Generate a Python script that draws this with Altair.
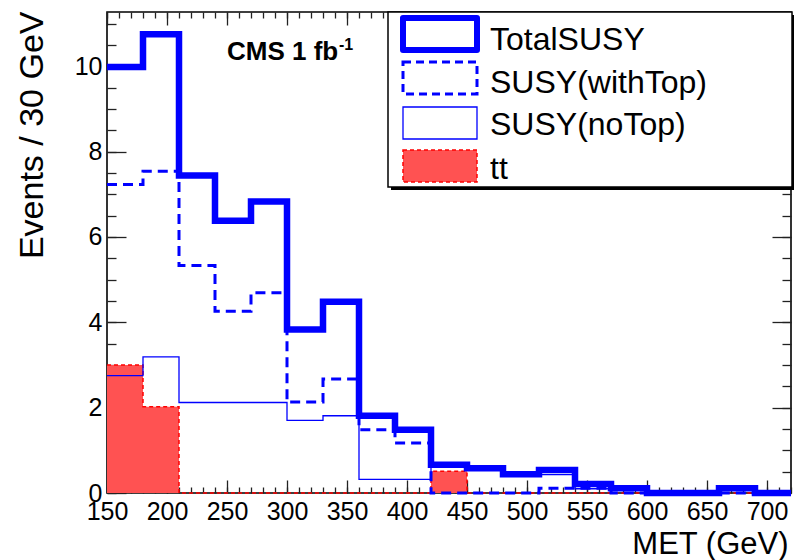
import altair as alt
import pandas as pd

FONT = "Liberation Sans"

# MET binning: 30 GeV bins from 150 to 720 GeV (lower edges)
bin_lo = [150, 180, 210, 240, 270, 300, 330, 360, 390, 420,
          450, 480, 510, 540, 570, 600, 630, 660, 690]
bin_width = 30

# Events / 30 GeV for each sample
total_susy = [9.98, 10.75, 7.44, 6.38, 6.83, 3.83, 4.48, 1.81, 1.48, 0.66,
              0.58, 0.44, 0.54, 0.21, 0.11, 0.0, 0.0, 0.11, 0.0]
susy_with_top = [7.23, 7.54, 5.33, 4.26, 4.69, 2.13, 2.67, 1.48, 1.17, 0.0,
                 0.0, 0.0, 0.11, 0.11, 0.0, 0.0, 0.0, 0.0, 0.0]
susy_no_top = [2.75, 3.19, 2.12, 2.12, 2.12, 1.70, 1.81, 0.32, 0.32, 0.66,
               0.58, 0.44, 0.43, 0.10, 0.11, 0.0, 0.0, 0.11, 0.0]
ttbar = [3.00, 2.02, 0.0, 0.0, 0.0, 0.0, 0.0, 0.0, 0.0, 0.51,
         0.0, 0.0, 0.0, 0.0, 0.0, 0.0, 0.0, 0.0, 0.0]

series_names = ["TotalSUSY", "SUSY(withTop)", "SUSY(noTop)", "tt"]

# axis decorations
x_major = [150, 200, 250, 300, 350, 400, 450, 500, 550, 600, 650, 700]
x_minor = list(range(150, 721, 10))
y_major = [0, 2, 4, 6, 8, 10]
y_minor = [v / 2 for v in range(0, 23)]

W, H = 684, 481
x_scale = alt.Scale(domain=[150, 720], nice=False, zero=False)
y_scale = alt.Scale(domain=[0, 11.27], nice=False, zero=True)

BLUE = "#0000ff"
RED = "#ff0000"
TT_FILL = "#ff5252"


def step_frame(values):
    edges = bin_lo + [bin_lo[-1] + bin_width]
    return pd.DataFrame({"met": edges, "events": values + [values[-1]]})


def tick_axis(orient, values, size):
    # inward-pointing ticks hugging the frame
    return alt.Axis(orient=orient, values=values, tickSize=size, offset=-size,
                    labels=False, domain=False, grid=False, title=None,
                    tickColor="#222222", tickWidth=1.3)


x_label_axis = alt.Axis(
    orient="bottom", values=x_major, ticks=False, tickSize=0, domain=False,
    grid=False, labelFont=FONT, labelFontSize=25, labelColor="black",
    labelPadding=6, labelOverlap=False, labelFlush=False,
    title="MET (GeV)", titleFont=FONT, titleFontSize=31,
    titleFontWeight="normal", titleColor="black", titleAnchor="end",
    titleAlign="right", titleBaseline="alphabetic", titleX=681, titleY=60)

y_label_axis = alt.Axis(
    orient="left", values=y_major, ticks=False, tickSize=0, domain=False,
    grid=False, labelFont=FONT, labelFontSize=25, labelColor="black",
    labelPadding=5, labelOverlap=False, labelFlush=False,
    title="Events / 30 GeV", titleFont=FONT, titleFontSize=34,
    titleFontWeight="normal", titleColor="black", titleAngle=270,
    titleAlign="right", titleBaseline="alphabetic", titleX=-65, titleY=-1)

# tt histogram: filled bins
hist = pd.DataFrame({"lo": bin_lo,
                     "hi": [b + bin_width for b in bin_lo],
                     "tt": ttbar})
tt_fill = alt.Chart(hist).mark_rect(fill=TT_FILL, strokeWidth=0).encode(
    x=alt.X("lo:Q", scale=x_scale, axis=x_label_axis),
    x2="hi:Q",
    y=alt.Y("tt:Q", scale=y_scale, axis=y_label_axis),
    y2=alt.datum(0),
)

tt_line = alt.Chart(step_frame(ttbar)).mark_line(
    interpolate="step-after", color=RED, strokeWidth=1.5, strokeDash=[4, 3]
).encode(
    x=alt.X("met:Q", scale=x_scale, axis=tick_axis("bottom", x_major, 13)),
    y=alt.Y("events:Q", scale=y_scale, axis=tick_axis("left", y_major, 19)),
)

no_top_line = alt.Chart(step_frame(susy_no_top)).mark_line(
    interpolate="step-after", color=BLUE, strokeWidth=1.3
).encode(
    x=alt.X("met:Q", scale=x_scale, axis=tick_axis("bottom", x_minor, 6)),
    y=alt.Y("events:Q", scale=y_scale, axis=tick_axis("left", y_minor, 9)),
)

with_top_line = alt.Chart(step_frame(susy_with_top)).mark_line(
    interpolate="step-after", color=BLUE, strokeWidth=3, strokeDash=[10, 6]
).encode(
    x=alt.X("met:Q", scale=x_scale, axis=tick_axis("top", x_major, 13)),
    y=alt.Y("events:Q", scale=y_scale, axis=tick_axis("right", y_major, 19)),
)

total_line = alt.Chart(step_frame(total_susy)).mark_line(
    interpolate="step-after", color=BLUE, strokeWidth=6.5, strokeJoin="miter"
).encode(
    x=alt.X("met:Q", scale=x_scale, axis=tick_axis("top", x_minor, 6)),
    y=alt.Y("events:Q", scale=y_scale, axis=tick_axis("right", y_minor, 9)),
)

# luminosity label
lumi = alt.Chart(pd.DataFrame({"t": ["CMS 1 fb"]})).mark_text(
    font=FONT, fontSize=26, fontWeight="bold", align="left",
    baseline="alphabetic", color="black"
).encode(text="t:N", x=alt.value(120), y=alt.value(48))
lumi_exp = alt.Chart(pd.DataFrame({"t": ["-1"]})).mark_text(
    font=FONT, fontSize=16, fontWeight="bold", align="left",
    baseline="alphabetic", color="black"
).encode(text="t:N", x=alt.value(232), y=alt.value(38))

# legend box with drop shadow
one_row = pd.DataFrame({"k": [0]})
legend_shadow = alt.Chart(one_row).mark_rect(fill="black").encode(
    x=alt.value(284), x2=alt.value(688), y=alt.value(3), y2=alt.value(178))
legend_box = alt.Chart(one_row).mark_rect(
    fill="white", stroke="black", strokeWidth=1.5
).encode(x=alt.value(281), x2=alt.value(685), y=alt.value(0), y2=alt.value(175))

sym_tops = [6, 50, 95, 138]
text_baselines = [38, 81, 123, 167]
sym_styles = [
    dict(fill="white", stroke=BLUE, strokeWidth=6, strokeJoin="round"),
    dict(fill="white", stroke=BLUE, strokeWidth=3, strokeDash=[8, 5]),
    dict(fill="white", stroke=BLUE, strokeWidth=1.3),
    dict(fill=TT_FILL, stroke=RED, strokeWidth=1.5, strokeDash=[4, 3]),
]

legend_layers = [legend_shadow, legend_box]
for name, top, base, style in zip(series_names, sym_tops, text_baselines, sym_styles):
    row = pd.DataFrame({"label": [name]})
    legend_layers.append(
        alt.Chart(row).mark_rect(**style).encode(
            x=alt.value(296), x2=alt.value(370),
            y=alt.value(top), y2=alt.value(top + 32))
    )
    legend_layers.append(
        alt.Chart(row).mark_text(
            font=FONT, fontSize=32, align="left", baseline="alphabetic",
            color="black"
        ).encode(text="label:N", x=alt.value(383), y=alt.value(base))
    )

chart = alt.layer(
    tt_fill, tt_line, no_top_line, with_top_line, total_line,
    lumi, lumi_exp, *legend_layers
).resolve_axis(
    x="independent", y="independent"
).properties(
    width=W, height=H,
    padding={"left": 107, "top": 12, "right": 3, "bottom": 67},
    autosize=alt.AutoSizeParams(type="none"),
    background="white",
).configure_view(
    stroke="black", strokeWidth=1.6
)

chart.save("out.html", embed_options={"renderer": "svg", "actions": False})
